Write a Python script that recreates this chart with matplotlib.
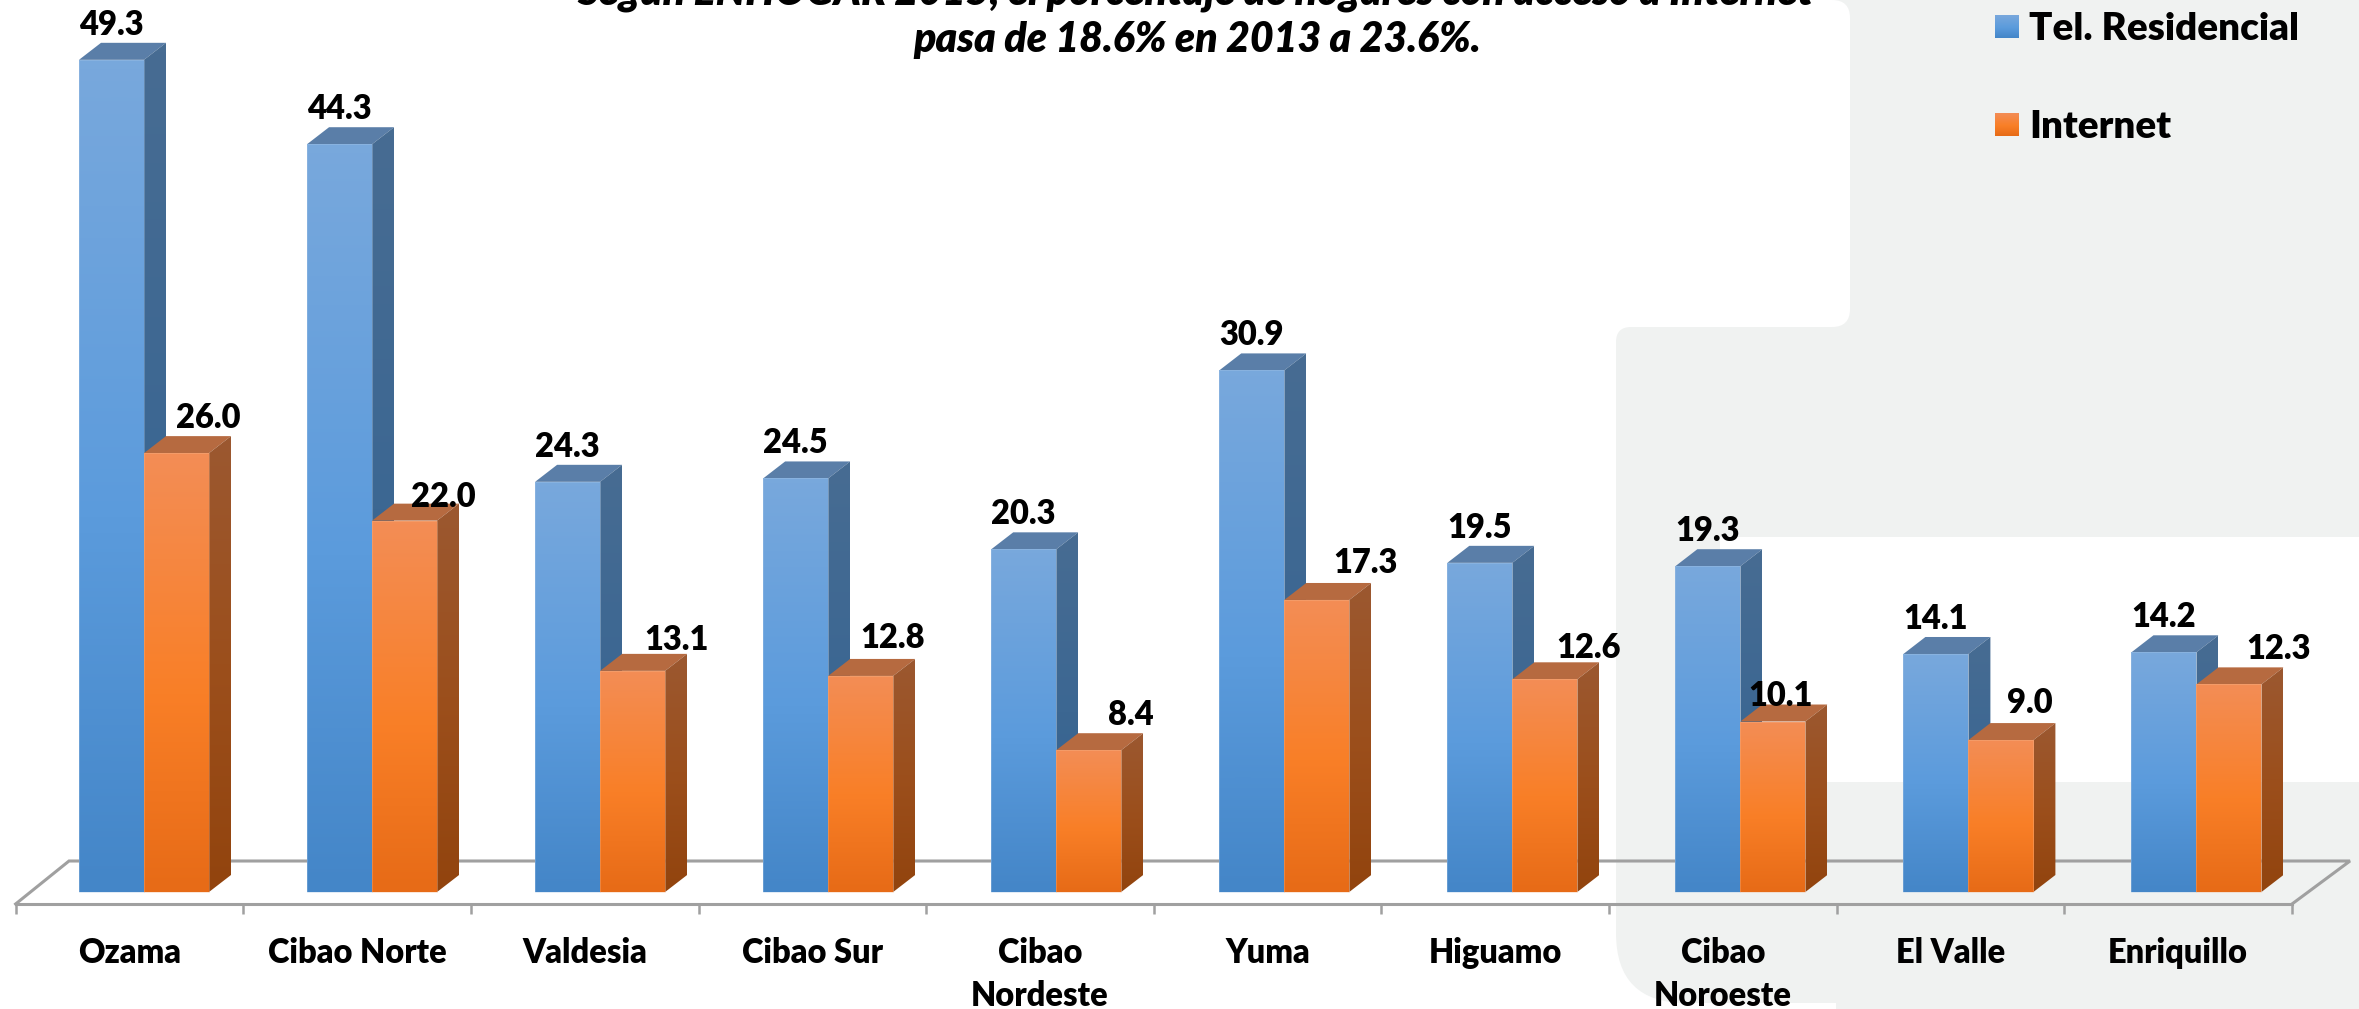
"""Hogares con telefono residencial e internet por region, barras con aspecto 3D."""
import matplotlib
matplotlib.use("Agg")
import matplotlib.pyplot as plt
import numpy as np
from matplotlib.colors import LinearSegmentedColormap
from matplotlib.patches import Path, PathPatch, Polygon, Rectangle

plt.rcParams["font.family"] = ["Lato", "DejaVu Sans"]

regions = ["Ozama", "Cibao Norte", "Valdesia", "Cibao Sur", "Cibao\nNordeste",
           "Yuma", "Higuamo", "Cibao\nNoroeste", "El Valle", "Enriquillo"]
tel_residencial = [49.3, 44.3, 24.3, 24.5, 20.3, 30.9, 19.5, 19.3, 14.1, 14.2]
internet = [26.0, 22.0, 13.1, 12.8, 8.4, 17.3, 12.6, 10.1, 9.0, 12.3]

# hand placed offsets (px) for the internet labels, as in the original slide
internet_dx = [32, 39, 44, 32, 42, 49, 44, 8, 29, 50]
internet_dy = [36, 25, 32, 39, 36, 38, 32, 27, 38, 36]

W, H = 2359, 1009
GRAY = "#f0f2f1"
BASE_Y = 892
PX_PER_UNIT = 16.88
GROUP_PX = 228.05
FIRST_CENTER = 144
BAR_PX = 65
DEPTH_X_PX = 22
DEPTH_Y_PX = 17
WEIGHT = "heavy"

blue_front = LinearSegmentedColormap.from_list(
    "bf", [(0, "#4486c8"), (0.45, "#5b9bdc"), (1, "#78a8dc")])
blue_side = LinearSegmentedColormap.from_list(
    "bs", [(0, "#2f5f8f"), (0.5, "#3c6792"), (1, "#476c92")])
orange_front = LinearSegmentedColormap.from_list(
    "of", [(0, "#e76b17"), (0.45, "#f97f27"), (1, "#f38d55")])
orange_side = LinearSegmentedColormap.from_list(
    "os", [(0, "#92440e"), (0.5, "#9c4f1c"), (1, "#9b5830")])


def fill_gradient(ax, patch, cmap, zorder):
    """Paint a vertical gradient over a patch, clipped to its outline."""
    box = patch.get_path().transformed(patch.get_patch_transform()).get_extents() \
        if isinstance(patch, Rectangle) else patch.get_path().get_extents()
    grad = np.linspace(1, 0, 64).reshape(-1, 1)
    im = ax.imshow(grad, cmap=cmap, vmin=0, vmax=1, aspect="auto", zorder=zorder,
                   extent=(box.x0, box.x1, box.y0, box.y1), interpolation="bilinear")
    im.set_clip_path(patch)


def draw_bars(ax, xs, values, width, dx, dy, front, side, top_color, edge, z0):
    bars = ax.bar(xs, values, width, color="none", zorder=z0 + 3)
    for i, (bar, v) in enumerate(zip(bars, values)):
        z = z0 + i * 0.01
        left = bar.get_x()
        right = left + width
        top = Polygon([(left, v), (right, v), (right + dx, v + dy), (left + dx, v + dy)],
                      closed=True, fc=top_color, ec="none", zorder=z)
        ax.add_patch(top)
        face = Polygon([(right, 0), (right + dx, dy), (right + dx, v + dy), (right, v)],
                       closed=True, fc="none", ec="none", zorder=z)
        ax.add_patch(face)
        fill_gradient(ax, face, side, z)
        bar.set_zorder(z + 0.005)
        fill_gradient(ax, bar, front, z + 0.005)
        ax.add_patch(Rectangle((left, 0), width, v, fc="none", ec=edge, lw=0.7, alpha=0.35,
                               zorder=z + 0.006))


def rounded_gray(ax):
    # lower right panel: rounded top-left and bottom-left corners
    x0, y0, y1 = 1616, 327, 1003
    verts = [(x0 + 15, y0), (W, y0), (W, y1), (x0 + 70, y1), (x0, y1), (x0, y1 - 70),
             (x0, y0 + 15), (x0, y0), (x0 + 15, y0), (x0 + 15, y0)]
    codes = [Path.MOVETO, Path.LINETO, Path.LINETO, Path.LINETO, Path.CURVE3, Path.CURVE3,
             Path.LINETO, Path.CURVE3, Path.CURVE3, Path.CLOSEPOLY]
    ax.add_patch(PathPatch(Path(verts, codes), fc=GRAY, ec="none", zorder=1))
    ax.add_patch(Rectangle((1836, 990), W - 1836, H - 990, fc=GRAY, ec="none", zorder=1))
    # upper right panel
    ax.add_patch(Rectangle((1800, 0), W - 1800, 340, fc=GRAY, ec="none", zorder=1))
    # white card on the top left, rounded on its right side
    x1, y2 = 1850, 327
    r = 18
    verts = [(0, 0), (x1 - r, 0), (x1, 0), (x1, r), (x1, y2 - r), (x1, y2), (x1 - r, y2),
             (0, y2), (0, 0)]
    codes = [Path.MOVETO, Path.LINETO, Path.CURVE3, Path.CURVE3, Path.LINETO, Path.CURVE3,
             Path.CURVE3, Path.LINETO, Path.CLOSEPOLY]
    ax.add_patch(PathPatch(Path(verts, codes), fc="white", ec="none", zorder=2))
    ax.add_patch(Rectangle((1720, 537), W - 1720, 245, fc="white", ec="none", zorder=2))


fig = plt.figure(figsize=(W / 100, H / 100), dpi=100, facecolor="white")

# decoration layer in pixel coordinates
bg = fig.add_axes([0, 0, 1, 1], zorder=0)
bg.set_xlim(0, W)
bg.set_ylim(H, 0)
bg.axis("off")
rounded_gray(bg)
bg.plot([15.6, 69, 2350, 2292], [904, 861, 861, 904], color="#a0a0a0", lw=2.2,
        solid_joinstyle="miter", zorder=3)
bg.text(1195, 5, "Según ENHOGAR 2015, el porcentaje de hogares con acceso a Internet",
        fontsize=29.5, fontweight=WEIGHT, fontstyle="italic", ha="center", va="baseline", zorder=4)
bg.text(1197, 52, "pasa de 18.6% en 2013 a 23.6%.", fontsize=29.5, fontweight=WEIGHT,
        fontstyle="italic", ha="center", va="baseline", zorder=4)

# legend drawn by hand, the swatches keep the front gradient
for y, name, cmap in [(15, "Tel. Residencial", blue_front), (113, "Internet", orange_front)]:
    swatch = Rectangle((1995, y), 24, 23, fc="none", ec="none", zorder=4)
    bg.add_patch(swatch)
    bg.imshow(np.linspace(1, 0, 32).reshape(-1, 1), cmap=cmap, vmin=0, vmax=1, aspect="auto",
              extent=(1995, 2019, y + 23, y), zorder=4)
    bg.text(2029, y + 25, name, fontsize=27.7, fontweight=WEIGHT, ha="left", va="baseline", zorder=4)
bg.set_xlim(0, W)
bg.set_ylim(H, 0)

# category axis along the front edge of the floor
cat = fig.add_axes([15.6 / W, 1 - 904 / H, (2292 - 15.6) / W, 0.001], zorder=1)
cat.patch.set_alpha(0)
cat.set_xlim(0, len(regions))
cat.set_yticks([])
for name in ("top", "left", "right"):
    cat.spines[name].set_visible(False)
cat.spines["bottom"].set_color("#a0a0a0")
cat.spines["bottom"].set_linewidth(2.2)
cat.set_xticks(np.arange(len(regions) + 1))
cat.set_xticklabels([])
cat.tick_params(axis="x", which="major", length=7.5, width=1.8, color="#a0a0a0")
cat.set_xticks(np.arange(len(regions)) + 0.5, minor=True)
cat.set_xticklabels(regions, minor=True, fontsize=23.5, fontweight=WEIGHT, linespacing=1.4)
cat.tick_params(axis="x", which="minor", length=0, pad=24)

# bars, value units on y
ax = fig.add_axes([0, 0, 1, 1], zorder=2)
ax.patch.set_alpha(0)
ax.axis("off")
ax.set_xlim(-FIRST_CENTER / GROUP_PX, (W - FIRST_CENTER) / GROUP_PX)
ax.set_ylim(-(H - BASE_Y) / PX_PER_UNIT, BASE_Y / PX_PER_UNIT)

x = np.arange(len(regions))
bar_w = BAR_PX / GROUP_PX
dx = DEPTH_X_PX / GROUP_PX
dy = DEPTH_Y_PX / PX_PER_UNIT
draw_bars(ax, x - bar_w / 2, tel_residencial, bar_w, dx, dy, blue_front, blue_side,
          "#5a7ea8", "#a9c7e6", 3)
draw_bars(ax, x + bar_w / 2, internet, bar_w, dx, dy, orange_front, orange_side,
          "#b66a40", "#f5b78f", 5)
ax.set_xlim(-FIRST_CENTER / GROUP_PX, (W - FIRST_CENTER) / GROUP_PX)
ax.set_ylim(-(H - BASE_Y) / PX_PER_UNIT, BASE_Y / PX_PER_UNIT)

for xi, v in zip(x, tel_residencial):
    ax.annotate(f"{v:.1f}", (xi - bar_w / 2, v), xytext=(0, 25), textcoords="offset pixels",
                ha="center", va="baseline", fontsize=23.5, fontweight=WEIGHT, zorder=8)
for xi, v, ox, oy in zip(x, internet, internet_dx, internet_dy):
    ax.annotate(f"{v:.1f}", (xi + bar_w / 2, v), xytext=(ox, oy - 11), textcoords="offset pixels",
                ha="center", va="baseline", fontsize=23.5, fontweight=WEIGHT, zorder=8)

fig.savefig("out.png", dpi=100, facecolor="white")
